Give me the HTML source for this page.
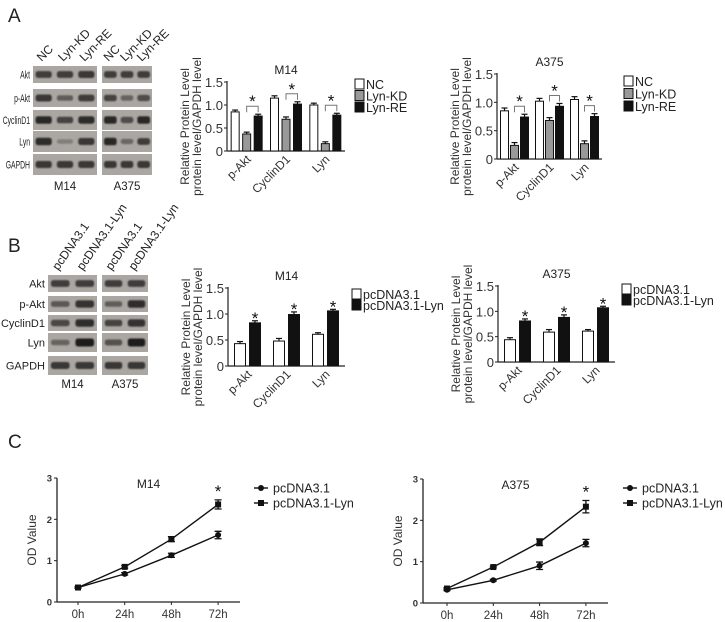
<!DOCTYPE html>
<html><head><meta charset="utf-8"><style>
body{margin:0;background:#fff}
svg{display:block;font-family:"Liberation Sans",Arial,sans-serif}
</style></head><body>
<svg id="fig" width="725" height="622" viewBox="0 0 725 622"></svg>
<script>
const cats3 = ["p-Akt","CyclinD1","Lyn"];
const barTicks = [0,0.5,1.0,1.5];
const barTickLabels = ["0","0.5","1.0","1.5"];
const aM14_NC = [0.85,1.15,1.00];
const aM14_KD = [0.37,0.69,0.16];
const aM14_RE = [0.76,1.02,0.78];
const aM14_err = [0.04,0.05,0.04];
const aA375_NC = [0.85,1.02,1.05];
const aA375_KD = [0.24,0.68,0.27];
const aA375_RE = [0.74,0.93,0.75];
const aA375_err = [0.05,0.05,0.05];
const bM14_pc = [0.43,0.48,0.61];
const bM14_lyn = [0.83,0.99,1.06];
const bA375_pc = [0.44,0.59,0.61];
const bA375_lyn = [0.81,0.88,1.07];
const bErr = [0.04,0.05,0.03];
const timeCats = ["0h","24h","48h","72h"];
const odTicks = [0,1,2,3];
const cM14_pc = [0.35,0.68,1.13,1.62];
const cM14_lyn = [0.35,0.85,1.52,2.36];
const cM14_pcErr = [0.02,0.03,0.05,0.09];
const cM14_lynErr = [0.02,0.03,0.06,0.11];
const cA375_pc = [0.32,0.55,0.90,1.45];
const cA375_lyn = [0.35,0.87,1.47,2.33];
const cA375_pcErr = [0.02,0.02,0.09,0.09];
const cA375_lynErr = [0.02,0.02,0.08,0.15];

const NS="http://www.w3.org/2000/svg";
const svg=document.getElementById('fig');
function mk(tag,attrs,parent,text){const e=document.createElementNS(NS,tag);for(const k in attrs)e.setAttribute(k,attrs[k]);if(text!==undefined)e.textContent=text;(parent||svg).appendChild(e);return e;}
function grp(name,parent){const g=mk('g',{},parent);return g;}

const defs=mk('defs',{});
const f=mk('filter',{id:'blur',x:'-20%',y:'-50%',width:'140%',height:'200%'},defs);
mk('feGaussianBlur',{stdDeviation:'0.9'},f);

[["A",8,22],["B",8,252],["C",8,448]].forEach(p=>{const t=mk('text',{x:p[1],y:p[2],'font-size':19,fill:'#222'},svg,p[0]);});

function blot(name,rows,rowY,boxes,lanes,laneLabels,intens,cellLabels,cellY,laneAngle,rowFs,laneFs,squeeze){
  const g=grp(name);
  rows.forEach((r,i)=>{const t=mk('text',{x:boxes[0][0]-3,y:(rowY[i][0]+rowY[i][1])/2+4,'font-size':rowFs,'text-anchor':'end',fill:'#222'},g,r);
    if(squeeze<1){const L=t.getComputedTextLength();if(L>0){t.setAttribute('textLength',(L*squeeze).toFixed(1));t.setAttribute('lengthAdjust','spacingAndGlyphs');}}});
  boxes.forEach((b,bi)=>{
    rowY.forEach((ry,ri)=>{
      mk('rect',{x:b[0],y:ry[0],width:b[1]-b[0],height:ry[1]-ry[0],fill:'#aaa6a1'},g);
      const n=lanes;const w=(b[1]-b[0])/n;
      for(let l=0;l<n;l++){const v=intens[ri][bi*n+l];
        mk('rect',{x:b[0]+l*w+w*0.12,y:(ry[0]+ry[1])/2-2-v*2,width:w*0.76,height:4+v*4,rx:2.5,fill:'#141414',opacity:0.2+0.75*v,filter:'url(#blur)'},g);}
    });
    const t=mk('text',{x:(b[0]+b[1])/2,y:cellY,'font-size':11.5,'text-anchor':'middle',fill:'#222'},g,cellLabels[bi]);
    const w=(b[1]-b[0])/lanes;
    for(let l=0;l<lanes;l++){const x=b[0]+l*w+w/2-2,y=rowY[0][0]-4;
      const t2=mk('text',{x:x,y:y,'font-size':laneFs,transform:`rotate(${laneAngle} ${x} ${y})`,fill:'#222'},g,laneLabels[l]);}
  });
}
blot('blot-a',["Akt","p-Akt","CyclinD1","Lyn","GAPDH"],[[66,83],[89,107],[110,130],[131,152],[154,175]],[[33,97],[102,152]],3,["NC","Lyn-KD","Lyn-RE"],
 [[0.7,0.7,0.75,0.7,0.7,0.7],[0.75,0.4,0.7,0.65,0.35,0.55],[0.9,0.65,0.85,0.9,0.55,0.9],[0.85,0.1,0.75,0.9,0.3,0.7],[0.75,0.75,0.75,0.75,0.75,0.75]],["M14","A375"],190,-45,11,12,0.62);
blot('blot-b',["Akt","p-Akt","CyclinD1","Lyn","GAPDH"],[[275,292],[296,312],[315,331],[333,352],[356,375]],[[48,97],[102,148]],2,["pcDNA3.1","pcDNA3.1-Lyn"],
 [[0.7,0.7,0.7,0.7],[0.45,0.8,0.4,0.85],[0.6,0.85,0.65,0.8],[0.35,1.0,0.5,1.0],[0.75,0.75,0.75,0.75]],["M14","A375"],388,-55,11,12,1);

function barChart(name,c){
  const g=grp(name);
  const yS=v=>c.y0-(v/1.5)*(c.y0-c.yTop);
  const bw=(c.x1-c.x0)/cats3.length;
  const cx=i=>c.x0+(i+0.5)*bw;
  mk('line',{x1:c.x0,y1:c.yTop-1,x2:c.x0,y2:c.y0,stroke:'#222','stroke-width':1.2},g);
  mk('line',{x1:c.x0,y1:c.y0,x2:c.x1,y2:c.y0,stroke:'#222','stroke-width':1.2},g);
  barTicks.forEach((t,i)=>{mk('line',{x1:c.x0-3,y1:yS(t),x2:c.x0,y2:yS(t),stroke:'#222'},g);
    const tl=mk('text',{x:c.x0-4,y:yS(t)+5,'font-size':13,'text-anchor':'end',fill:'#333'},g,barTickLabels[i]);});
  const tt=mk('text',{x:(c.x0+c.x1)/2,y:c.yTop-8,'font-size':12,'text-anchor':'middle',fill:'#222'},g,c.title);
  const yx1=c.x0-38,yx2=c.x0-26,ym=(c.y0+c.yTop)/2+10;
  const a1=mk('text',{x:yx1,y:ym,'font-size':12,'text-anchor':'middle',transform:`rotate(-90 ${yx1} ${ym})`,fill:'#333'},g,"Relative Protein Level");
  const a2=mk('text',{x:yx2,y:ym,'font-size':12,'text-anchor':'middle',transform:`rotate(-90 ${yx2} ${ym})`,fill:'#333'},g,"protein level/GAPDH level");
  cats3.forEach((cat,i)=>{const x=cx(i)+5,y=c.y0+9;
    const t=mk('text',{x:x,y:y,'font-size':12,'text-anchor':'end',transform:`rotate(-45 ${x} ${y})`,fill:'#333'},g,cat);});
  const n=c.series.length;
  cats3.forEach((cat,i)=>{
    c.series.forEach((s,si)=>{
      const x=cx(i)+(si-(n-1)/2)*c.off-c.w/2;const v=s.vals[i];const e=c.err[i];
      const r=mk('rect',{x:x,y:yS(v),width:c.w,height:c.y0-yS(v),fill:s.fill,stroke:'#111','stroke-width':1},g);
      
      mk('line',{x1:x+c.w/2,y1:yS(v),x2:x+c.w/2,y2:yS(v+e),stroke:'#111','stroke-width':1.2},g);
      mk('line',{x1:x+c.w/2-3,y1:yS(v+e),x2:x+c.w/2+3,y2:yS(v+e),stroke:'#111','stroke-width':1.2},g);
    });
    if(c.bracket){
      const xa=cx(i),xb=cx(i)+c.off;const top=Math.max(c.series[1].vals[i],c.series[2].vals[i])+c.err[i];
      const by=yS(top)-8;
      mk('path',{d:`M${xa} ${by+6}V${by}H${xb}V${by+6}`,fill:'none',stroke:'#777','stroke-width':1},g);
      const st=mk('text',{x:(xa+xb)/2,y:by+1,'font-size':17,'text-anchor':'middle',fill:'#111'},g,'*');
    } else {
      const v=c.series[1].vals[i]+c.err[i];const xb=cx(i)+c.off/2;
      const st=mk('text',{x:xb,y:yS(v)+3,'font-size':17,'text-anchor':'middle',fill:'#111'},g,'*');
    }
  });
  c.series.forEach((s,si)=>{const ly=c.legY+si*c.legDy;
    const lg=grp('legend-entry-'+s.key,g);
    mk('rect',{x:c.legX,y:ly-9,width:9,height:10,fill:s.fill,stroke:'#111'},lg);
    mk('text',{x:c.legX+11,y:ly+1,'font-size':12.5,fill:'#222'},lg,s.label);});
}
const ser3=(a,b,c)=>[{key:'nc',label:'NC',fill:'#fff',vals:a},{key:'lyn-kd',label:'Lyn-KD',fill:'#999',vals:b},{key:'lyn-re',label:'Lyn-RE',fill:'#111',vals:c}];
barChart('chart-a-m14',{x0:227,x1:345,y0:151,yTop:82,title:'M14',series:ser3(aM14_NC,aM14_KD,aM14_RE),err:aM14_err,off:11.5,w:8,bracket:true,legX:355,legY:88,legDy:11.5});
barChart('chart-a-a375',{x0:497,x1:602,y0:159,yTop:74,title:'A375',series:ser3(aA375_NC,aA375_KD,aA375_RE),err:aA375_err,off:10,w:8,bracket:true,legX:624,legY:85,legDy:12.5});
const ser2=(a,b)=>[{key:'pcdna',label:'pcDNA3.1',fill:'#fff',vals:a},{key:'pcdna-lyn',label:'pcDNA3.1-Lyn',fill:'#111',vals:b}];
barChart('chart-b-m14',{x0:228,x1:345,y0:366,yTop:288,title:'M14',series:ser2(bM14_pc,bM14_lyn),err:bErr,off:15,w:11,bracket:false,legX:352,legY:298,legDy:11});
barChart('chart-b-a375',{x0:498,x1:615,y0:362,yTop:286,title:'A375',series:ser2(bA375_pc,bA375_lyn),err:bErr,off:15,w:11,bracket:false,legX:622,legY:293,legDy:11});

function lineChart(name,c){
  const g=grp(name);
  const yS=v=>c.y0-(v/3)*(c.y0-c.yTop);
  const xS=i=>c.xFirst+i*c.dx;
  mk('line',{x1:c.x0,y1:c.yTop,x2:c.x0,y2:c.y0,stroke:'#222','stroke-width':1.3},g);
  mk('line',{x1:c.x0,y1:c.y0,x2:c.x1,y2:c.y0,stroke:'#222','stroke-width':1.3},g);
  odTicks.forEach(t=>{mk('line',{x1:c.x0-3,y1:yS(t),x2:c.x0,y2:yS(t),stroke:'#222'},g);
    const tl=mk('text',{x:c.x0-5,y:yS(t)+3.5,'font-size':9.5,'font-weight':'bold','text-anchor':'end',fill:'#333'},g,String(t));});
  timeCats.forEach((tc,i)=>{mk('line',{x1:xS(i),y1:c.y0,x2:xS(i),y2:c.y0+3,stroke:'#222'},g);
    const tl=mk('text',{x:xS(i),y:c.y0+16,'font-size':11.5,'text-anchor':'middle',fill:'#333'},g,tc);});
  const yx=c.x0-21,ym=(c.y0+c.yTop)/2;
  const at=mk('text',{x:yx,y:ym,'font-size':12,'text-anchor':'middle',transform:`rotate(-90 ${yx} ${ym})`,fill:'#333'},g,'OD Value');
  const tt=mk('text',{x:(c.x0+c.x1)/2,y:c.yTop+10,'font-size':12,'text-anchor':'middle',fill:'#222'},g,c.title);
  c.series.forEach(s=>{
    const p=s.vals.map((v,i)=>`${i?'L':'M'}${xS(i)} ${yS(v)}`).join('');
    const l=mk('path',{d:p,fill:'none',stroke:'#111','stroke-width':1.4},g);
    s.vals.forEach((v,i)=>{const x=xS(i),e=s.err[i];
      mk('path',{d:`M${x} ${yS(v-e)}V${yS(v+e)}M${x-3.5} ${yS(v-e)}h7M${x-3.5} ${yS(v+e)}h7`,stroke:'#111','stroke-width':1.3,fill:'none'},g);
      const m=s.sq?mk('rect',{x:x-3,y:yS(v)-3,width:6,height:6,fill:'#111'},g):mk('circle',{cx:x,cy:yS(v),r:3,fill:'#111'},g);
      });
  });
  const top=c.series[1].vals[3]+c.series[1].err[3];
  const st=mk('text',{x:xS(3),y:yS(top)-3,'font-size':17,'text-anchor':'middle',fill:'#111'},g,'*');
  c.series.forEach((s,si)=>{const ly=c.legY+si*15;const lg=grp('legend-entry-'+s.key,g);
    mk('line',{x1:c.legX,y1:ly,x2:c.legX+14,y2:ly,stroke:'#111','stroke-width':1.4},lg);
    if(s.sq)mk('rect',{x:c.legX+4,y:ly-3,width:6,height:6,fill:'#111'},lg);else mk('circle',{cx:c.legX+7,cy:ly,r:3,fill:'#111'},lg);
    mk('text',{x:c.legX+19,y:ly+4.5,'font-size':12.5,fill:'#222'},lg,s.label);});
}
lineChart('chart-c-m14',{x0:57,x1:240,y0:602,yTop:478,xFirst:78,dx:46.7,title:'M14',legX:254,legY:488,
  series:[{key:'pcdna',label:'pcDNA3.1',vals:cM14_pc,err:cM14_pcErr,sq:false},{key:'pcdna-lyn',label:'pcDNA3.1-Lyn',vals:cM14_lyn,err:cM14_lynErr,sq:true}]});
lineChart('chart-c-a375',{x0:423,x1:608,y0:603,yTop:479,xFirst:447,dx:46.3,title:'A375',legX:623,legY:488,
  series:[{key:'pcdna',label:'pcDNA3.1',vals:cA375_pc,err:cA375_pcErr,sq:false},{key:'pcdna-lyn',label:'pcDNA3.1-Lyn',vals:cA375_lyn,err:cA375_lynErr,sq:true}]});
</script>
</body></html>
